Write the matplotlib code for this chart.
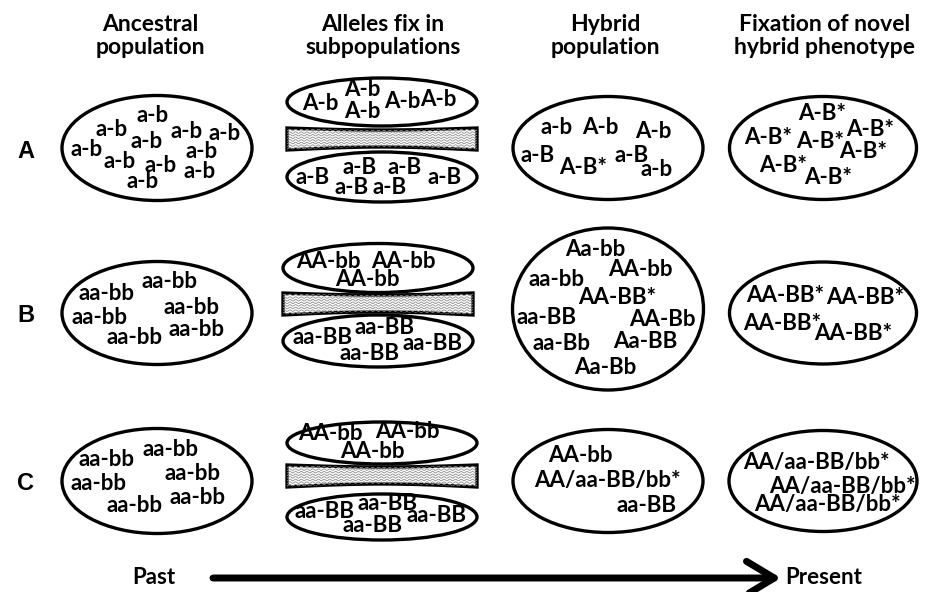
import numpy as np
import matplotlib
matplotlib.use("Agg")
import matplotlib.pyplot as plt
from matplotlib.patches import Ellipse, Polygon

# column headers and row labels
headers = ["Ancestral\npopulation", "Alleles fix in\nsubpopulations",
           "Hybrid\npopulation", "Fixation of novel\nhybrid phenotype"]
rows = ["A", "B", "C"]

# genotypes in each population (row A, B, C)
anc_A = ["a-b"] * 11
subtop_A = ["A-b"] * 5
subbot_A = ["a-B"] * 6
hyb_A = ["a-b", "A-b", "A-b", "a-B", "A-B*", "a-B", "a-b"]
fix_A = ["A-B*"] * 7

anc_B = ["aa-bb"] * 6
subtop_B = ["AA-bb"] * 3
subbot_B = ["aa-BB"] * 4
hyb_B = ["Aa-bb", "AA-bb", "aa-bb", "AA-BB*", "aa-BB", "AA-Bb",
         "aa-Bb", "Aa-BB", "Aa-Bb"]
fix_B = ["AA-BB*"] * 4

anc_C = ["aa-bb"] * 6
subtop_C = ["AA-bb"] * 3
subbot_C = ["aa-BB"] * 4
hyb_C = ["AA-bb", "AA/aa-BB/bb*", "aa-BB"]
fix_C = ["AA/aa-BB/bb*"] * 3

# layout (pixel coordinates)
W, H = 928, 592
col_x = [157, 382, 608, 823]
row_y = [148, 313, 481]
head_x = [150, 383, 605, 825]

pos_anc_A = [(153, 115), (112, 130), (147, 142), (187, 132), (225, 134), (87, 150),
             (202, 152), (120, 162), (161, 165), (200, 172), (143, 182)]
pos_subtop_A = [(320, 104), (362, 90), (362, 112), (402, 102), (438, 99)]
pos_subbot_A = [(313, 177), (360, 168), (405, 167), (352, 187), (390, 187), (445, 178)]
pos_hyb_A = [(557, 127), (600, 127), (653, 131), (538, 156), (583, 168), (632, 156), (657, 170)]
pos_fix_A = [(822, 113), (768, 137), (820, 142), (870, 129), (863, 151), (783, 166), (828, 178)]

pos_anc_B = [(107, 293), (170, 282), (192, 307), (100, 317), (197, 330), (135, 338)]
pos_subtop_B = [(328, 261), (403, 261), (367, 280)]
pos_subbot_B = [(323, 338), (385, 328), (370, 353), (433, 343)]
pos_hyb_B = [(595, 250), (640, 270), (557, 280), (617, 298), (547, 317), (662, 320),
             (562, 343), (645, 341), (605, 367)]
pos_fix_B = [(785, 295), (865, 298), (782, 323), (853, 334)]

pos_anc_C = [(107, 460), (171, 449), (193, 474), (99, 483), (198, 497), (135, 505)]
pos_subtop_C = [(330, 433), (407, 432), (372, 452)]
pos_subbot_C = [(325, 511), (388, 503), (373, 526), (437, 516)]
pos_hyb_C = [(580, 455), (607, 480), (647, 506)]
pos_fix_C = [(816, 462), (842, 486), (827, 505)]

# ellipses: (cx, cy, w, h)
ell_big = [(col_x[0], row_y[0], 190, 105), (col_x[2], row_y[0], 190, 103), (col_x[3], row_y[0], 187, 103),
           (col_x[0], row_y[1], 190, 103), (col_x[2], 309, 191, 162), (col_x[3], row_y[1], 187, 102),
           (col_x[0], row_y[2], 190, 105), (col_x[2], row_y[2], 190, 103), (col_x[3], row_y[2], 188, 101)]
ell_sub = [(382, 102, 190, 48), (382, 177, 190, 50),
           (378, 268, 190, 49), (378, 341, 190, 52),
           (382, 443, 190, 42), (382, 517, 190, 46)]
bars = [(287, 477, 128, 150), (283, 473, 293, 315), (287, 477, 465, 487)]

fig = plt.figure(figsize=(W / 100, H / 100), dpi=100)
ax = fig.add_axes([0, 0, 1, 1])
ax.set_xlim(0, W)
ax.set_ylim(H, 0)
ax.axis("off")

font = ["Lato", "DejaVu Sans"]
gsize = 16

for x, lab in zip(head_x, headers):
    ax.text(x, 36, lab, ha="center", va="center", fontsize=16.5, fontweight="bold",
            family=font, linespacing=1.15)

for y, lab in zip(row_y, rows):
    ax.text(26, y + 3, lab, ha="center", va="center", fontsize=17, fontweight="bold",
            family="Liberation Sans")

for cx, cy, w, h in ell_big + ell_sub:
    ax.add_patch(Ellipse((cx, cy), w, h, fill=False, lw=2.4, ec="black"))

for x0, x1, y0, y1 in bars:
    t = np.linspace(0, 1, 60)
    xs = x0 + (x1 - x0) * t
    top = y0 + 2 * np.sin(np.pi * t)
    bot = y1 - 3 * np.sin(np.pi * t)
    poly = Polygon(np.r_[np.c_[xs, top], np.c_[xs[::-1], bot[::-1]]], closed=True,
                   fc="white", ec="black", lw=2.4, zorder=3)
    ax.add_patch(poly)
    xw = np.linspace(x0, x1, 400)
    for yy in np.arange(y0 + 2, y1, 2.6):
        ln, = ax.plot(xw, yy + 0.8 * np.sin(xw * 1.1), color="0.55", lw=0.6, zorder=4)
        ln.set_clip_path(poly)

groups = [(anc_A, pos_anc_A), (subtop_A, pos_subtop_A), (subbot_A, pos_subbot_A),
          (hyb_A, pos_hyb_A), (fix_A, pos_fix_A),
          (anc_B, pos_anc_B), (subtop_B, pos_subtop_B), (subbot_B, pos_subbot_B),
          (hyb_B, pos_hyb_B), (fix_B, pos_fix_B),
          (anc_C, pos_anc_C), (subtop_C, pos_subtop_C), (subbot_C, pos_subbot_C),
          (hyb_C, pos_hyb_C), (fix_C, pos_fix_C)]
for labels, positions in groups:
    for lab, (x, y) in zip(labels, positions):
        ax.text(x, y, lab, ha="center", va="center", fontsize=gsize, fontweight="bold",
                family=font, zorder=5)

# time arrow
ax.text(154, 578, "Past", ha="center", va="center", fontsize=16, fontweight="bold", family=font)
ax.text(824, 578, "Present", ha="center", va="center", fontsize=16, fontweight="bold", family=font)
ax.annotate("", xy=(781, 578), xytext=(213, 578),
            arrowprops=dict(arrowstyle="->,head_length=1.0,head_width=0.6", lw=5,
                            mutation_scale=20, color="black", shrinkA=0, shrinkB=0))

fig.savefig("out.png", dpi=100)
